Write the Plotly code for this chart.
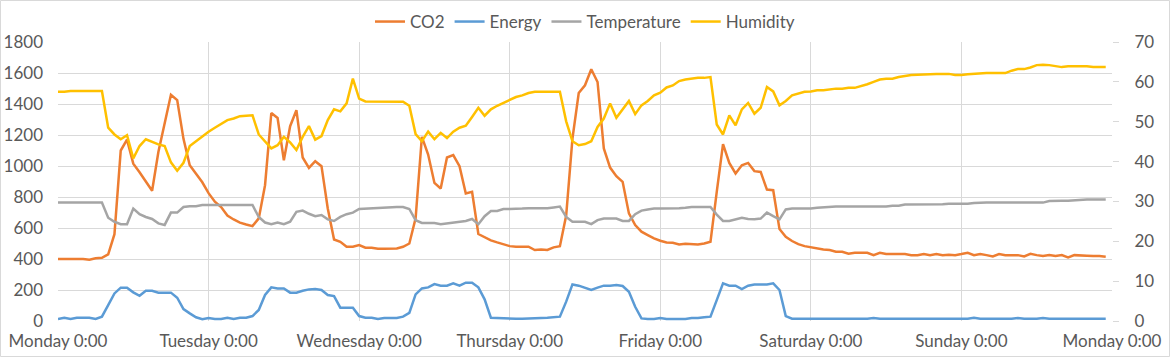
import plotly.graph_objects as go

# Hourly readings, Monday 0:00 .. Sunday 23:00 (168 points)
day_labels = ["Monday 0:00", "Tuesday 0:00", "Wednesday 0:00", "Thursday 0:00",
              "Friday 0:00", "Saturday 0:00", "Sunday 0:00", "Monday 0:00"]

co2 = [400, 400, 400, 400, 400, 395, 405, 408, 430, 560,
       1100, 1170, 1015, 960, 900, 840, 1090, 1265, 1460, 1425,
       1175, 1005, 950, 895, 825, 770, 735, 680, 655, 635,
       623, 612, 662, 876, 1342, 1310, 1037, 1257, 1360, 1055,
       988, 1031, 999, 726, 526, 511, 479, 479, 490, 473,
       473, 466, 466, 466, 468, 479, 500, 662, 1188, 1074,
       891, 855, 1055, 1070, 999, 823, 833, 561, 539, 520,
       507, 496, 483, 479, 479, 479, 458, 462, 458, 475,
       483, 680, 1177, 1471, 1521, 1624, 1542, 1113, 990, 934,
       898, 694, 619, 576, 554, 533, 518, 507, 505, 494,
       498, 494, 494, 500, 511, 833, 1141, 1020, 952, 1005,
       1020, 967, 962, 848, 844, 593, 543, 516, 496, 483,
       475, 468, 462, 458, 447, 447, 434, 440, 440, 440,
       425, 440, 432, 432, 432, 432, 425, 425, 432, 425,
       432, 425, 427, 425, 432, 440, 425, 432, 425, 417,
       432, 425, 425, 425, 417, 434, 425, 419, 425, 419,
       425, 410, 425, 425, 421, 419, 419, 414]

energy = [13, 21, 13, 21, 21, 21, 13, 28, 103, 178,
          215, 215, 185, 163, 195, 195, 183, 183, 183, 150,
          77, 49, 24, 11, 19, 13, 13, 21, 13, 21,
          21, 32, 71, 168, 217, 210, 210, 183, 183, 195,
          204, 206, 200, 168, 161, 86, 86, 86, 32, 21,
          21, 13, 19, 19, 19, 28, 52, 172, 210, 217,
          238, 228, 228, 243, 228, 247, 247, 217, 140, 21,
          19, 15, 15, 15, 15, 15, 15, 19, 21, 26,
          28, 125, 236, 228, 215, 200, 215, 228, 228, 232,
          226, 189, 92, 17, 13, 13, 19, 13, 13, 13,
          13, 19, 19, 24, 28, 135, 243, 228, 228, 206,
          228, 236, 236, 236, 243, 200, 32, 15, 15, 15,
          15, 15, 15, 15, 15, 15, 15, 15, 15, 15,
          20, 15, 15, 15, 15, 15, 15, 15, 15, 15,
          15, 15, 15, 15, 15, 15, 21, 15, 15, 15,
          15, 15, 15, 20, 15, 15, 15, 20, 15, 15,
          15, 15, 15, 15, 15, 15, 15, 15]

temperature = [29.7, 29.7, 29.7, 29.7, 29.7, 29.7, 29.7, 29.7, 25.9, 24.9,
               24.3, 24.3, 28.2, 26.8, 26.1, 25.6, 24.5, 24.1, 27.2, 27.2,
               28.6, 28.8, 28.8, 29.1, 29.1, 29.1, 29.1, 29.1, 29.1, 29.1,
               29.1, 29.1, 26.1, 24.7, 24.3, 24.7, 24.3, 24.9, 27.4, 27.7,
               26.9, 26.3, 26.6, 25.5, 25.1, 26.1, 26.8, 27.2, 28.1, 28.2,
               28.3, 28.3, 28.4, 28.6, 28.6, 28.6, 28.1, 25.3, 24.6, 24.6,
               24.6, 24.3, 24.5, 24.7, 24.9, 25.1, 25.6, 24.3, 26.3, 27.6,
               27.6, 28.1, 28.1, 28.1, 28.2, 28.3, 28.3, 28.3, 28.3, 28.5,
               28.7, 26.1, 24.9, 24.9, 24.9, 24.3, 25.3, 25.7, 25.7, 25.7,
               25.1, 25.1, 26.8, 27.7, 28.0, 28.2, 28.2, 28.2, 28.2, 28.3,
               28.4, 28.6, 28.6, 28.6, 28.6, 26.7, 25.1, 25.1, 25.5, 25.9,
               25.6, 25.5, 25.7, 27.2, 26.3, 25.5, 28.0, 28.2, 28.2, 28.2,
               28.2, 28.4, 28.5, 28.7, 28.7, 28.7, 28.7, 28.7, 28.7, 28.7,
               28.7, 28.7, 28.7, 28.9, 28.9, 29.2, 29.2, 29.2, 29.2, 29.2,
               29.2, 29.3, 29.4, 29.4, 29.4, 29.4, 29.6, 29.7, 29.7, 29.7,
               29.7, 29.7, 29.7, 29.7, 29.7, 29.7, 29.7, 29.7, 30.1, 30.2,
               30.2, 30.2, 30.3, 30.5, 30.5, 30.5, 30.5, 30.5]

humidity = [57.5, 57.5, 57.7, 57.7, 57.7, 57.7, 57.7, 57.7, 48.5, 46.8,
            45.6, 46.6, 40.8, 43.9, 45.6, 44.9, 44.3, 43.9, 39.8, 37.7,
            39.7, 43.9, 45.1, 46.4, 47.5, 48.5, 49.4, 50.4, 50.8, 51.4,
            51.5, 51.6, 46.8, 45.1, 43.3, 44.1, 46.2, 44.8, 42.9, 46.2,
            48.9, 45.5, 46.4, 50.4, 53.1, 52.6, 54.6, 60.8, 55.8, 55.1,
            55.1, 55.1, 55.1, 55.0, 55.0, 55.0, 54.0, 46.9, 45.1, 47.5,
            45.6, 47.2, 45.9, 47.5, 48.5, 49.0, 51.2, 53.5, 51.5, 53.1,
            54.0, 54.8, 55.6, 56.2, 56.6, 57.2, 57.5, 57.5, 57.5, 57.5,
            57.5, 50.1, 45.1, 44.1, 44.4, 45.1, 48.7, 50.8, 54.6, 51.0,
            53.1, 55.2, 51.9, 54.1, 55.2, 56.6, 57.3, 58.6, 59.1, 60.2,
            60.6, 60.8, 61.0, 61.0, 61.2, 49.3, 46.8, 51.6, 49.1, 53.1,
            54.7, 52.0, 53.5, 58.7, 57.6, 54.1, 55.2, 56.6, 57.1, 57.5,
            57.6, 57.9, 57.9, 58.1, 58.3, 58.3, 58.5, 58.5, 58.9, 59.4,
            60.0, 60.6, 60.8, 60.8, 61.2, 61.5, 61.7, 61.8, 61.9, 62.0,
            62.0, 62.0, 62.0, 61.7, 61.7, 61.9, 62.0, 62.2, 62.2, 62.2,
            62.2, 62.2, 62.8, 63.2, 63.2, 63.6, 64.2, 64.3, 64.2, 63.9,
            63.7, 63.9, 63.9, 63.9, 63.9, 63.7, 63.7, 63.7]

hours = list(range(len(co2)))
tick_hours = [24 * d for d in range(len(day_labels))]

FONT = "Lato"
TXT = "#595959"
GRID = "#D9D9D9"

fig = go.Figure()
fig.add_trace(go.Scatter(x=hours, y=co2, name="CO2", mode="lines",
                         line=dict(color="#ED7D31", width=2.5)))
fig.add_trace(go.Scatter(x=hours, y=energy, name="Energy", mode="lines",
                         line=dict(color="#5B9BD5", width=2.5)))
fig.add_trace(go.Scatter(x=hours, y=temperature, name="Temperature", mode="lines",
                         line=dict(color="#A5A5A5", width=2.5), yaxis="y2"))
fig.add_trace(go.Scatter(x=hours, y=humidity, name="Humidity", mode="lines",
                         line=dict(color="#FFC000", width=2.5), yaxis="y2"))

W, H = 1171, 358
L, R, T, B = 58, 59, 42, 37
pw, ph = W - L - R, H - T - B

def px_x(p):
    return (p - L) / pw

def px_y(p):
    return (H - B - p) / ph

fig.update_layout(
    width=W, height=H,
    margin=dict(l=L, r=R, t=T, b=B, autoexpand=False),
    paper_bgcolor="white", plot_bgcolor="white",
    font=dict(family=FONT, size=17, color=TXT),
    showlegend=True,
    legend=dict(orientation="h", x=0.5, xanchor="center", y=px_y(22), yanchor="middle",
                font=dict(family=FONT, size=17, color=TXT),
                itemwidth=30, tracegroupgap=0, bgcolor="rgba(0,0,0,0)"),
    xaxis=dict(range=[0, 168], tickvals=tick_hours, ticktext=day_labels,
               showgrid=True, gridcolor=GRID, gridwidth=1, zeroline=False,
               showline=False, ticks="", ticklabelstandoff=8,
               tickfont=dict(family=FONT, size=17, color=TXT), automargin=False),
    yaxis=dict(range=[0, 1800], dtick=200, showgrid=True, gridcolor=GRID, gridwidth=1,
               zeroline=False, showline=False, ticks="", ticklabelstandoff=14,
               tickfont=dict(family=FONT, size=17, color=TXT), automargin=False),
    yaxis2=dict(range=[0, 70], dtick=10, overlaying="y", side="right", showgrid=False,
                zeroline=False, showline=False, ticks="outside", ticklen=6,
                tickcolor=GRID, ticklabelstandoff=12,
                tickfont=dict(family=FONT, size=17, color=TXT), automargin=False),
    shapes=[dict(type="rect", xref="paper", yref="paper",
                 x0=px_x(0.5), x1=px_x(W - 1.5), y0=px_y(H - 1.5), y1=px_y(0.5),
                 line=dict(color=GRID, width=1), fillcolor="rgba(0,0,0,0)", layer="below")],
)

fig.write_html("out.html", config={"displayModeBar": False},
               post_script="document.body.style.margin='0';")
